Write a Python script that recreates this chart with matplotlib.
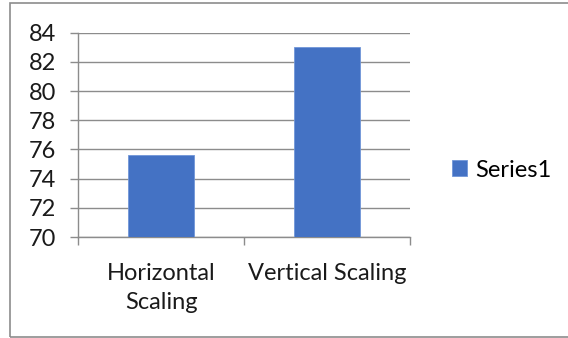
import matplotlib.pyplot as plt
from matplotlib.patches import Rectangle

categories = ['Horizontal\nScaling', 'Vertical Scaling']
values = [75.65, 83.05]
series_name = 'Series1'
yticks = [70, 72, 74, 76, 78, 80, 82, 84]

plt.rcParams['font.family'] = ['Lato', 'DejaVu Sans']

fig = plt.figure(figsize=(5.68, 3.38), dpi=100)
ax = fig.add_axes([0.1379, 0.2988, 0.584, 0.6044])

x = list(range(len(categories)))
ax.bar(x, [v - 70 for v in values], bottom=70, width=0.395,
       color='#4472C4', edgecolor='#7096d8', linewidth=0.6, label=series_name, zorder=3)

ax.set_xlim(-0.5, len(categories) - 0.5)
ax.set_ylim(70, 84)
ax.set_yticks(yticks)
ax.set_yticklabels([str(t) for t in yticks], fontsize=17, color='#1a1a1a')
ax.grid(axis='y', color='#8c8c8c', linewidth=1.0, zorder=0)

ax.set_xticks(x)
ax.set_xticklabels(categories, fontsize=17, color='#1a1a1a', linespacing=1.45)
ax.tick_params(axis='x', which='major', length=0, pad=19)
ax.set_xticks([-0.5, 0.5, 1.5], minor=True)
ax.tick_params(axis='x', which='minor', length=5.8, color='#8c8c8c', width=1.0)
ax.tick_params(axis='y', length=5.8, color='#8c8c8c', width=1.0, pad=10)

for s in ['top', 'right']:
    ax.spines[s].set_visible(False)
ax.spines['left'].set_color('#8c8c8c')
ax.spines['bottom'].set_color('#8c8c8c')
ax.spines['left'].set_linewidth(1.0)
ax.spines['bottom'].set_linewidth(1.0)

leg = fig.legend(loc='center left', bbox_to_anchor=(0.795, 0.497), frameon=False,
                 fontsize=17, handlelength=0.65, handleheight=0.65, handletextpad=0.35,
                 borderpad=0, borderaxespad=0)

# outer chart border (right edge runs off the image)
fig.patches.append(Rectangle((0.0176, 0.003), 1.1, 0.987, transform=fig.transFigure,
                             fill=False, edgecolor='#8c8c8c', linewidth=1.2))

fig.savefig('out.png', dpi=100)
